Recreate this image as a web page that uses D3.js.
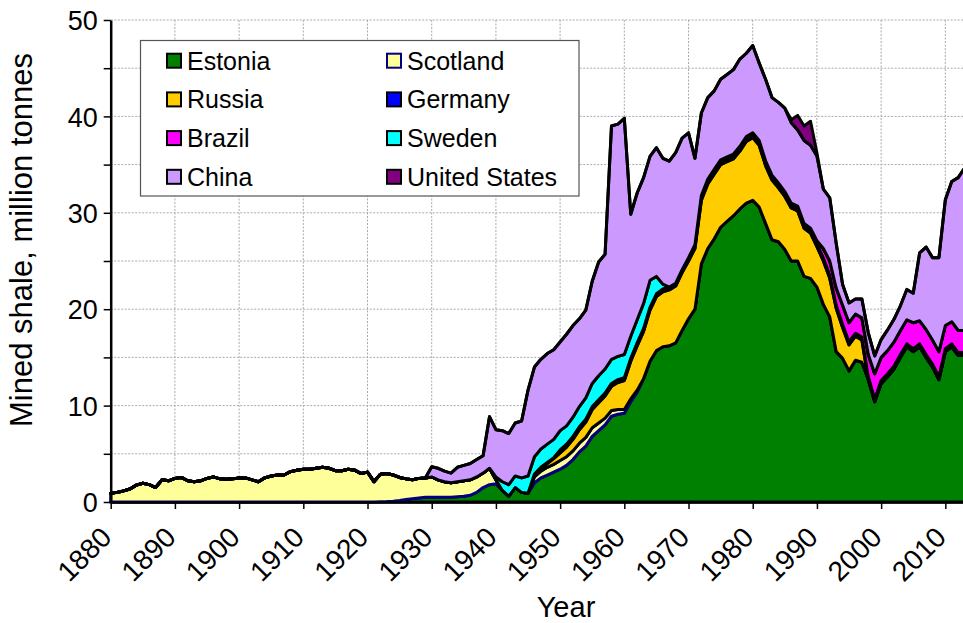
<!DOCTYPE html>
<html><head><meta charset="utf-8">
<script src="https://cdn.jsdelivr.net/npm/d3@7/dist/d3.min.js"></script>
<style>
body{margin:0;background:#fff}
svg{display:block}
text{font-family:Arial,"Liberation Sans",sans-serif;fill:#000}
</style>
</head><body>
<svg id="chart" width="963" height="623"></svg>
<script>
// ---------- DATA (million tonnes) ----------
const firstYear = 1880, lastYear = 2013;
const years = d3.range(firstYear, lastYear + 1);

const estoniaStart = 1916;
const estonia = [0.0,0.0,0.0,0.0,0.0,0.01,0.02,0.04,0.08,0.15,0.25,0.35,0.42,0.5,
 0.5,0.5,0.5,0.5,0.55,0.6,0.7,1.0,1.5,1.8,
 1.9,1.2,0.6,1.5,1.0,0.9,2.0,2.5,2.8,3.1,
 3.4,3.8,4.4,5.2,5.8,6.8,7.4,8.0,8.9,9.1,
 9.2,10.4,11.4,12.8,14.6,15.7,16.1,16.2,16.5,17.8,
 19.0,20.0,24.7,26.3,27.3,28.5,29.1,29.7,30.4,31.0,
 31.3,30.6,28.9,27.2,27.0,26.2,25.0,25.0,23.4,23.2,
 22.3,20.5,19.2,15.6,14.9,13.6,14.7,14.5,12.7,10.4,
 12.3,13.0,13.8,15.0,16.1,15.6,16.1,15.0,14.0,12.7,
 15.6,16.1,15.2,15.2];

const scotlandStart = 1880;
const scotland = [0.9,1.0,1.15,1.35,1.75,1.95,1.8,1.5,2.3,2.2,
 2.45,2.55,2.2,2.1,2.2,2.45,2.6,2.4,2.35,2.4,
 2.5,2.5,2.3,2.1,2.5,2.7,2.8,2.8,3.15,3.3,
 3.4,3.4,3.5,3.6,3.5,3.25,3.25,3.4,3.3,2.95,
 3.1,2.1,2.85,2.91,2.72,2.4,2.15,1.96,2.03,2.0,
 2.1,1.8,1.6,1.5,1.55,1.6,1.6,1.6,1.5,1.7,
 0.4,0,0,0,0,0,0.6,0.7,0.8,0.8,
 0.9,0.9,0.9,0.9,0.9,0.9,0.8,0.7,0.6,0.5,
 0.4,0.3,0.2];

const russiaStart = 1946;
const russia = [0.2,0.3,0.4,0.6,
 0.8,1.0,1.2,1.4,1.6,1.9,2.1,2.3,2.5,2.8,
 3.0,3.9,4.6,4.9,5.3,5.6,5.7,5.8,5.9,6.0,
 6.0,6.3,6.6,6.7,6.7,6.5,6.2,5.9,6.0,6.4,
 6.5,6.4,6.0,6.2,5.6,5.5,5.5,5.2,5.0,4.7,
 4.2,4.5,4.0,4.5,3.2,2.7,2.5,2.3,0];

const germanyStart = 1946;
const germany = [0.1,0.1,0.1,0.1,
 0.3,0.3,0.3,0.3,0.3,0.3,0.3,0.3,0.3,0.3,
 0.3,0.3,0.3,0.3,0.3,0.3,0.3,0.3,0.3,0.3,
 0.3,0.3,0.3,0.3,0.3,0.3,0.3,0.3,0.3,0.3,
 0.3,0.3,0.3,0.3,0.3,0.3,0.3,0.3,0.3,0.3,
 0.3,0.3,0.3,0.3,0.3,0.3,0.3,0.3,0.3,0.3,
 0.3,0.3,0.3,0.3,0.3,0.3,0.3,0.3,0.3,0.3,
 0.3,0.3,0.3,0.3];

const brazilStart = 1970;
const brazil = [0.05,0.1,0.2,0.2,0.2,0.2,0.2,0.2,0.2,0.2,
 0.2,0.2,0.2,0.2,0.2,0.2,0.2,0.2,0.2,0.2,
 0.3,1.0,1.5,1.8,2.0,2.0,2.0,2.0,2.3,2.6,
 2.4,2.4,2.5,2.5,2.5,2.7,2.4,2.6,2.5,2.6,
 2.4,2.3,2.3,2.3];

const swedenStart = 1940;
const sweden = [0.3,0.9,1.2,1.2,1.5,1.8,1.8,1.9,1.9,1.9,
 2.0,1.9,2.0,2.1,2.2,2.4,2.5,2.5,2.5,2.4,
 2.4,2.3,2.4,2.6,2.8,1.8,0.5,0];

const chinaStart = 1930;
const china = [1.06,1.2,1.1,1.0,1.5,1.6,1.7,1.8,1.8,5.35,
 4.9,5.3,5.3,5.5,5.9,8.9,9.3,9.3,9.4,9.3,
 9.2,9.5,9.5,9.1,9.1,10.6,11.8,11.9,24.2,24.1,
 24.5,12.65,13.15,13.05,12.85,13.35,13.05,13.05,13.55,13.65,
 12.95,8.95,8.55,8.45,8.15,8.35,8.55,8.75,9.05,8.65,
 9.05,8.05,8.45,8.05,8.35,8.65,8.35,7.9,8.6,8.6,
 8.8,6.15,6.55,4.65,2.15,2.05,1.55,1.95,2.25,1.85,
 1.85,2.15,2.35,2.55,3.15,3.05,7.05,8.55,8.55,9.75,
 13.05,14.55,15.85,16.85];

const usStart = 1986;
const unitedStates = [0.3,1.5,1.5,2.5,0.3,0];

const yTicks = [0,5,10,15,20,25,30,35,40,45,50];
const yLabels = [0,10,20,30,40,50];
const xTicks = [1880,1890,1900,1910,1920,1930,1940,1950,1960,1970,1980,1990,2000,2010];

// ---------- SERIES (stack order) ----------
const series = [
  {name:"Estonia",       start:estoniaStart,  vals:estonia,      fill:"#008000", stroke:"#000000"},
  {name:"Scotland",      start:scotlandStart, vals:scotland,     fill:"#FFFF99", stroke:"#000080"},
  {name:"Russia",        start:russiaStart,   vals:russia,       fill:"#FFCC00", stroke:"#000000"},
  {name:"Germany",       start:germanyStart,  vals:germany,      fill:"#0000FF", stroke:"#000000"},
  {name:"Brazil",        start:brazilStart,   vals:brazil,       fill:"#FF00FF", stroke:"#000000"},
  {name:"Sweden",        start:swedenStart,   vals:sweden,       fill:"#00FFFF", stroke:"#000000"},
  {name:"China",         start:chinaStart,    vals:china,        fill:"#CC99FF", stroke:"#000000"},
  {name:"United States", start:usStart,       vals:unitedStates, fill:"#800080", stroke:"#000000"}
];
const legendOrder = ["Estonia","Scotland","Russia","Germany","Brazil","Sweden","China","United States"];

const table = years.map(yr => {
  const row = {year: yr};
  series.forEach(s => {
    const i = yr - s.start;
    row[s.name] = (i >= 0 && i < s.vals.length) ? s.vals[i] : 0;
  });
  return row;
});

const svg = d3.select("#chart");
const x = d3.scaleLinear().domain([firstYear, lastYear]).range([110.7, 964.6]);
const y = d3.scaleLinear().domain([0, 50]).range([502, 20]);
const plotRight = 963;

// grid
const grid = svg.append("g");
grid.selectAll("line.h").data(yTicks.filter(d => d > 0)).join("line")
  .attr("x1", x(firstYear)).attr("x2", plotRight)
  .attr("y1", d => y(d)).attr("y2", d => y(d))
  .attr("stroke", "#aaaaaa").attr("stroke-width", 1).attr("stroke-dasharray", "2,1.5");
grid.selectAll("line.v").data(xTicks.filter(d => d > firstYear)).join("line")
  .attr("x1", d => x(d)).attr("x2", d => x(d))
  .attr("y1", y(50)).attr("y2", y(0))
  .attr("stroke", "#aaaaaa").attr("stroke-width", 1).attr("stroke-dasharray", "2,1.5");

// stacked areas
const stacked = d3.stack().keys(series.map(s => s.name))(table);
const area = d3.area()
  .x(d => x(d.data.year))
  .y0(d => y(d[0]))
  .y1(d => y(d[1]));
svg.append("g").selectAll("path").data(stacked).join("path")
  .attr("d", area)
  .attr("fill", (d, i) => series[i].fill)
  .attr("stroke", (d, i) => series[i].stroke)
  .attr("stroke-width", 3)
  .attr("stroke-linejoin", "round");

// axes
const yAxis = d3.axisLeft(y).tickValues(yTicks).tickSize(7).tickSizeOuter(0)
  .tickFormat(d => yLabels.includes(d) ? d : "");
const gy = svg.append("g").attr("transform", `translate(${x(firstYear)},0)`).call(yAxis);
gy.select(".domain").attr("stroke", "#000").attr("stroke-width", 2.5);
gy.selectAll(".tick line").attr("stroke", "#000").attr("stroke-width", 1.5);
gy.selectAll(".tick text").attr("font-size", 27).attr("x", -13).attr("dy", "0.36em")
  .style("font-family", "Arial, 'Liberation Sans', sans-serif");

const xAxis = d3.axisBottom(x).tickValues(xTicks).tickSize(7).tickSizeOuter(0).tickFormat(d3.format("d"));
const gx = svg.append("g").attr("transform", `translate(0,${y(0)})`).call(xAxis);
gx.select(".domain").attr("stroke", "#000").attr("stroke-width", 2.5);
gx.selectAll(".tick line").attr("stroke", "#000").attr("stroke-width", 1.5);
gx.selectAll(".tick text").attr("font-size", 28)
  .style("font-family", "Arial, 'Liberation Sans', sans-serif")
  .attr("text-anchor", "end").attr("x", null).attr("y", null).attr("dy", null)
  .attr("transform", "translate(2,37) rotate(-45)");

// axis titles
svg.append("text").attr("x", 566).attr("y", 617).attr("text-anchor", "middle")
  .attr("font-size", 29).text("Year");
svg.append("text").attr("transform", "translate(32,240) rotate(-90)")
  .attr("text-anchor", "middle").attr("font-size", 31).text("Mined shale, million tonnes");

// legend
const lg = svg.append("g");
lg.append("rect").attr("x", 140.5).attr("y", 40.5).attr("width", 438.5).attr("height", 155.5)
  .attr("fill", "#fff").attr("stroke", "#555").attr("stroke-width", 1.2);
legendOrder.forEach((name, i) => {
  const s = series.find(v => v.name === name);
  const col = i % 2, row = Math.floor(i / 2);
  const sx = col === 0 ? 167 : 387;
  const cy = 60.7 + row * 38.7;
  lg.append("rect").attr("x", sx).attr("y", cy - 7).attr("width", 14).attr("height", 14)
    .attr("fill", s.fill).attr("stroke", s.stroke).attr("stroke-width", 2);
  lg.append("text").attr("x", sx + 20).attr("y", cy + 9).attr("font-size", 25).text(name);
});
</script>
</body></html>
